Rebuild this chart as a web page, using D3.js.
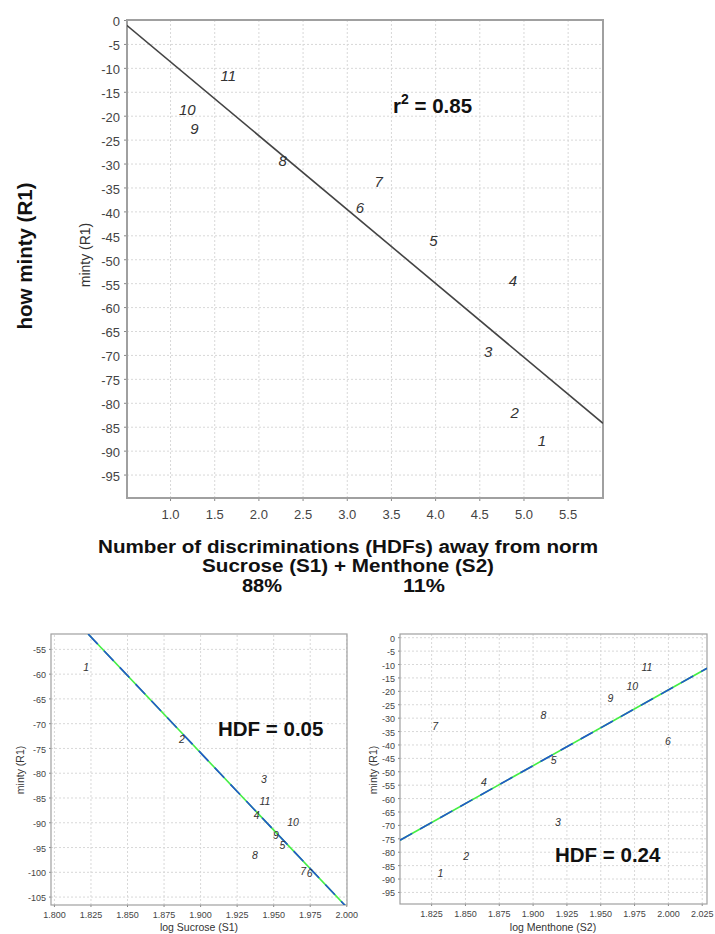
<!DOCTYPE html>
<html>
<head>
<meta charset="utf-8">
<script src="https://cdn.jsdelivr.net/npm/d3@7"></script>
<style>
  body { margin: 0; background: #fff; font-family: 'Liberation Sans', Arial, sans-serif; }
  svg { display: block; }
  .grid line { stroke: #d8d8d8; stroke-dasharray: 2,2; }
  .grid path { display: none; }
  .ax path { display: none; }
  .ax line { stroke: #888; }
  .ax text { fill: #444; }
  .pt { font-style: italic; fill: #333; text-anchor: middle; }
  .big { font-size: 20.5px; font-weight: bold; fill: #111; }
  .ttl { font-size: 18px; font-weight: bold; fill: #111; }
</style>
</head>
<body>
<svg id="chart" width="715" height="934"></svg>
<script>
// point ids 1..11
var pointIds = ["1", "2", "3", "4", "5", "6", "7", "8", "9", "10", "11"];

// main panel: HDFs away from norm vs minty
var mainHDF   = [5.21, 4.90, 4.60, 4.88, 3.98, 3.15, 3.36, 2.275, 1.275, 1.196, 1.66];
var mainMinty = [-88.0, -82.1, -69.3, -54.6, -46.1, -39.3, -33.9, -29.5, -22.8, -18.7, -11.6];
var mainFit   = [[0.51, -1.1], [5.9, -84.3]];
var mainXTicks = [1.0, 1.5, 2.0, 2.5, 3.0, 3.5, 4.0, 4.5, 5.0, 5.5];
var mainYTicks = d3.range(0, -96, -5);

// bottom left: log sucrose
var sucroseLog   = [1.822, 1.8875, 1.9437, 1.9387, 1.9564, 1.975, 1.9705, 1.9375, 1.9518, 1.9636, 1.9443];
var sucroseMinty = [-58.8, -73.3, -81.4, -88.6, -94.6, -100.3, -99.9, -96.6, -92.7, -90.0, -85.7];
var sucroseFit   = [[1.8234, -52], [2.0005, -107.2]];
var sucroseXTicks = d3.range(1.8, 2.001, 0.025);
var sucroseYTicks = d3.range(-55, -106, -5);

// bottom right: log menthone
var menthoneLog   = [1.8319, 1.8509, 1.9187, 1.864, 1.9155, 2.0, 1.828, 1.908, 1.9576, 1.9737, 1.9845];
var menthoneMinty = [-88.1, -81.9, -69.0, -54.0, -45.8, -38.9, -33.4, -29.3, -22.7, -18.5, -11.2];
var menthoneFit   = [[1.802, -75.7], [2.0289, -11.6]];
var menthoneXTicks = d3.range(1.825, 2.026, 0.025);
var menthoneYTicks = d3.range(0, -96, -5);

var svg = d3.select("#chart");

function panel(o) {
  var x = d3.scaleLinear().domain(o.xDomain).range([o.left, o.right]);
  var y = d3.scaleLinear().domain(o.yDomain).range([o.bottom, o.top]);
  var g = svg.append("g");
  var clipId = "clip" + o.id;
  g.append("clipPath").attr("id", clipId).append("rect")
    .attr("x", o.left).attr("y", o.top)
    .attr("width", o.right - o.left).attr("height", o.bottom - o.top);

  // grid
  g.append("g").attr("class", "grid")
    .attr("transform", "translate(0," + o.bottom + ")")
    .call(d3.axisBottom(x).tickValues(o.xTicks).tickSize(-(o.bottom - o.top)).tickFormat(""));
  g.append("g").attr("class", "grid")
    .attr("transform", "translate(" + o.left + ",0)")
    .call(d3.axisLeft(y).tickValues(o.yTicks).tickSize(-(o.right - o.left)).tickFormat(""));

  // axes (plain hyphen for negatives, like the original)
  g.append("g").attr("class", "ax")
    .attr("transform", "translate(0," + o.bottom + ")")
    .call(d3.axisBottom(x).tickValues(o.xTicks).tickSize(o.tick).tickPadding(o.xPad).tickFormat(d3.format(o.xFmt)))
    .selectAll("text").style("font-size", o.tickFont + "px");
  g.append("g").attr("class", "ax")
    .attr("transform", "translate(" + o.left + ",0)")
    .call(d3.axisLeft(y).tickValues(o.yTicks).tickSize(o.tick).tickPadding(o.yPad)
      .tickFormat(function(d) { return String(Math.round(d)); }))
    .selectAll("text").style("font-size", o.tickFont + "px")
    .attr("dy", "0.45em");

  // frame
  g.append("rect")
    .attr("x", o.left).attr("y", o.top)
    .attr("width", o.right - o.left).attr("height", o.bottom - o.top)
    .attr("fill", "none").attr("stroke", "#a0a0a0").attr("stroke-width", o.frame);

  // fit line
  var line = d3.line().x(function(d) { return x(d[0]); }).y(function(d) { return y(d[1]); });
  if (o.twoTone) {
    g.append("path").attr("d", line(o.fit)).attr("clip-path", "url(#" + clipId + ")")
      .attr("stroke", "#44ee44").attr("stroke-width", 1.6).attr("fill", "none");
    g.append("path").attr("d", line(o.fit)).attr("clip-path", "url(#" + clipId + ")")
      .attr("stroke", "#2255cc").attr("stroke-width", 1.6).attr("fill", "none")
      .attr("stroke-dasharray", "14,9");
  } else {
    g.append("path").attr("d", line(o.fit)).attr("clip-path", "url(#" + clipId + ")")
      .attr("stroke", "#444").attr("stroke-width", 1.6).attr("fill", "none");
  }

  // point labels
  g.selectAll("text.pt").data(pointIds).enter().append("text")
    .attr("class", "pt")
    .attr("x", function(d, i) { return x(o.xs[i]); })
    .attr("y", function(d, i) { return y(o.ys[i]); })
    .attr("dy", "0.35em")
    .style("font-size", o.ptFont + "px")
    .text(function(d) { return d; });

  // axis titles
  if (o.yTitle) {
    g.append("text")
      .attr("transform", "translate(" + o.yTitle[0] + "," + o.yTitle[1] + ") rotate(-90)")
      .attr("text-anchor", "middle").style("font-size", o.titleFont + "px").attr("fill", "#333")
      .text("minty (R1)");
  }
  if (o.xTitle) {
    g.append("text")
      .attr("x", o.xTitle[0]).attr("y", o.xTitle[1])
      .attr("text-anchor", "middle").style("font-size", o.titleFont + "px").attr("fill", "#333")
      .text(o.xLabel);
  }
}

panel({
  id: "main", left: 127, right: 603, top: 20, bottom: 498,
  xDomain: [0.513, 5.9], yDomain: [-99.9, 0],
  xTicks: mainXTicks, yTicks: mainYTicks, xFmt: ".1f",
  tick: 3, xPad: 9, yPad: 4, tickFont: 13, frame: 2,
  fit: mainFit, xs: mainHDF, ys: mainMinty, ptFont: 15,
  yTitle: [90, 255], titleFont: 14
});

panel({
  id: "suc", left: 51, right: 347, top: 634, bottom: 905,
  xDomain: [1.798, 2.0005], yDomain: [-106.7, -52],
  xTicks: sucroseXTicks, yTicks: sucroseYTicks, xFmt: ".3f",
  tick: 2, xPad: 5, yPad: 3, tickFont: 9, frame: 1.2, twoTone: true,
  fit: sucroseFit, xs: sucroseLog, ys: sucroseMinty, ptFont: 10.5,
  yTitle: [24, 770], xTitle: [199, 931], xLabel: "log Sucrose (S1)", titleFont: 10.5
});

panel({
  id: "men", left: 400, right: 707, top: 634, bottom: 904,
  xDomain: [1.802, 2.0289], yDomain: [-99.5, 1.2],
  xTicks: menthoneXTicks, yTicks: menthoneYTicks, xFmt: ".3f",
  tick: 2, xPad: 5, yPad: 3, tickFont: 9, frame: 1.2, twoTone: true,
  fit: menthoneFit, xs: menthoneLog, ys: menthoneMinty, ptFont: 10.5,
  yTitle: [377, 770], xTitle: [553, 931], xLabel: "log Menthone (S2)", titleFont: 10.5
});

// r squared
var r2 = svg.append("text").attr("class", "big").attr("x", 393).attr("y", 113);
r2.append("tspan").text("r");
r2.append("tspan").attr("dy", -9).style("font-size", "14px").text("2");
r2.append("tspan").attr("dy", 9).text(" = 0.85");

// HDF labels
svg.append("text").attr("class", "big").attr("x", 218).attr("y", 736).text("HDF = 0.05");
svg.append("text").attr("class", "big").attr("x", 555).attr("y", 862).text("HDF = 0.24");

// outer titles
svg.append("text").attr("class", "big")
  .attr("transform", "translate(32,256) rotate(-90)")
  .attr("text-anchor", "middle")
  .text("how minty (R1)");

// the original title font is wide and short, so stretch to the measured widths
function title(txt, cx, y, w) {
  svg.append("text").attr("class", "ttl")
    .attr("x", cx - w / 2).attr("y", y)
    .attr("textLength", w).attr("lengthAdjust", "spacingAndGlyphs")
    .text(txt);
}
title("Number of discriminations (HDFs) away from norm", 348, 553, 500);
title("Sucrose (S1) + Menthone (S2)", 348, 572, 292);
title("88%", 262, 592, 40);
title("11%", 424, 592, 42);
</script>
</body>
</html>
